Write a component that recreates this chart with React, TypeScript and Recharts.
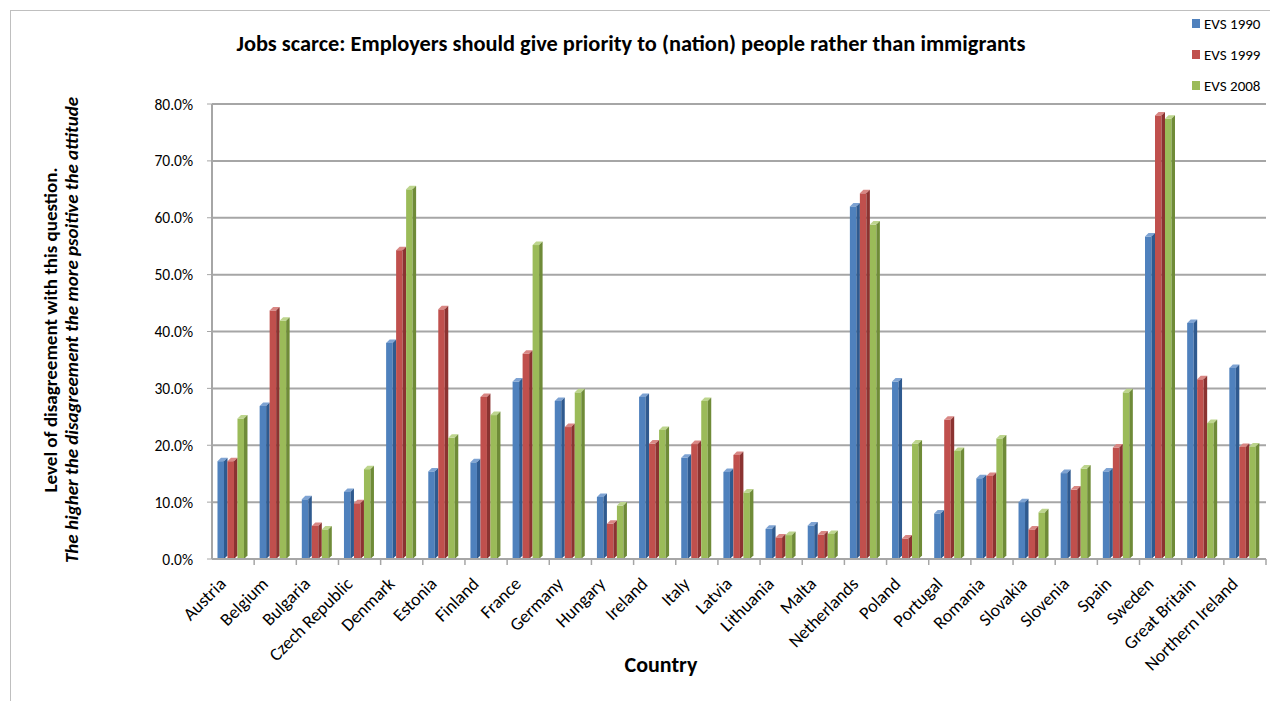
import React from "react";
import { BarChart, Bar, XAxis, YAxis, CartesianGrid } from "recharts";

const countries = [
  "Austria", "Belgium", "Bulgaria", "Czech Republic", "Denmark", "Estonia",
  "Finland", "France", "Germany", "Hungary", "Ireland", "Italy", "Latvia",
  "Lithuania", "Malta", "Netherlands", "Poland", "Portugal", "Romania",
  "Slovakia", "Slovenia", "Spain", "Sweden", "Great Britain", "Northern Ireland",
];

const evs1990 = [17.2, 26.9, 10.5, 11.8, 38.0, 15.4, 17.0, 31.2, 27.8, 10.9, 28.5, 17.8, 15.3, 5.3, 5.9, 62.0, 31.2, 8.0, 14.2, 10.0, 15.1, 15.4, 56.7, 41.5, 33.6];
const evs1999 = [17.2, 43.7, 5.8, 9.8, 54.3, 43.9, 28.5, 36.1, 23.2, 6.2, 20.3, 20.2, 18.3, 3.8, 4.3, 64.3, 3.6, 24.5, 14.6, 5.2, 12.2, 19.6, 78.0, 31.6, 19.7];
const evs2008 = [24.7, 41.9, 5.2, 15.8, 65.0, 21.3, 25.3, 55.2, 29.3, 9.4, 22.7, 27.8, 11.7, 4.2, 4.4, 58.8, 20.3, 19.0, 21.2, 8.2, 15.9, 29.3, 77.4, 23.9, 19.8];

const yTicks = [0, 10, 20, 30, 40, 50, 60, 70, 80];

const series = [
  { key: "EVS 1990", values: evs1990, color: "#4F81BD", side: "#2f5a8f", top: "#7ea3d3" },
  { key: "EVS 1999", values: evs1999, color: "#C0504D", side: "#8b3331", top: "#d98784" },
  { key: "EVS 2008", values: evs2008, color: "#9BBB59", side: "#6f8b38", top: "#bdd58d" },
];

const data = countries.map((c, i) => {
  const row: Record<string, string | number> = { country: c };
  series.forEach((s) => (row[s.key] = s.values[i]));
  return row;
});

const FONT = "Carlito, Lato, 'Open Sans', sans-serif";
const CHART_W = 1270;
const PLOT_LEFT = 212;
const PLOT_RIGHT = 4;

function make3D(color: string, side: string, top: string) {
  return (props: any) => {
    const { x, y, width, height } = props;
    if (height == null || width == null) return null;
    const d = 3.5;
    const fw = width - d;
    return (
      <g>
        <rect x={x} y={y} width={fw} height={height} fill={color} />
        <polygon
          points={`${x},${y} ${x + d},${y - d} ${x + width},${y - d} ${x + fw},${y}`}
          fill={top}
        />
        <polygon
          points={`${x + fw},${y} ${x + width},${y - d} ${x + width},${y + height - d} ${x + fw},${y + height}`}
          fill={side}
        />
      </g>
    );
  };
}

function CountryTick(props: any) {
  const { x, y, payload } = props;
  const half = payload && payload.offset ? payload.offset : (CHART_W - PLOT_LEFT - PLOT_RIGHT) / countries.length / 2;
  const tx = x - 6;
  const ty = y + 18;
  return (
    <g>
      <line x1={x + half} y1={y - 8} x2={x + half} y2={y - 2} stroke="#a6a6a6" strokeWidth={1.5} />
      <text
        x={tx}
        y={ty}
        transform={`rotate(-45, ${tx}, ${ty})`}
        textAnchor="end"
        fontFamily={FONT}
        fontSize={18}
        fill="#000"
      >
        {payload.value}
      </text>
    </g>
  );
}

export default function App() {
  return (
    <div style={{ position: "absolute", left: 0, top: 0, width: 1270, height: 701, background: "#fff", overflow: "hidden" }}>
      <div style={{ position: "absolute", left: 10, top: 10, width: 1270, height: 700, border: "1px solid #bfbfbf" }} />
      <div
        style={{
          position: "absolute", left: 0, top: 30, width: 1262, textAlign: "center",
          fontFamily: FONT, fontWeight: "bold", fontSize: 22.4,
        }}
      >
        Jobs scarce: Employers should give priority to (nation) people rather than immigrants
      </div>
      <div
        style={{
          position: "absolute", left: 61, top: 330, width: 600,
          transform: "translate(-50%, -50%) rotate(-90deg)", textAlign: "center",
          fontFamily: FONT, fontWeight: "bold", fontSize: 19, lineHeight: "21px",
        }}
      >
        <div>Level of disagreement with this question.</div>
        <div style={{ fontStyle: "italic" }}>The higher the disagreement the more psoitive the attitude</div>
      </div>
      <div
        style={{
          position: "absolute", left: 561, top: 651, width: 200, textAlign: "center",
          fontFamily: FONT, fontWeight: "bold", fontSize: 22,
        }}
      >
        Country
      </div>
      <div style={{ position: "absolute", left: 1192, top: 8, fontFamily: FONT, fontSize: 15, color: "#000" }}>
        {series.map((s) => (
          <div key={s.key} style={{ display: "flex", alignItems: "center", height: 31 }}>
            <span style={{ width: 8, height: 9, background: s.color, marginRight: 4, display: "inline-block" }} />
            {s.key}
          </div>
        ))}
      </div>
      <div style={{ position: "absolute", left: 0, top: 0 }}>
        <BarChart
          width={CHART_W}
          height={701}
          data={data}
          margin={{ top: 104, right: PLOT_RIGHT, left: 0, bottom: 0 }}
          barGap={0}
          barCategoryGap="13%"
        >
          <CartesianGrid vertical={false} stroke="#a6a6a6" strokeWidth={2} />
          <XAxis
            dataKey="country"
            height={142}
            interval={0}
            tickLine={false}
            axisLine={{ stroke: "#a6a6a6", strokeWidth: 2 }}
            tick={<CountryTick />}
          />
          <YAxis
            width={PLOT_LEFT}
            domain={[0, 80]}
            ticks={yTicks}
            tickFormatter={(v: number) => v.toFixed(1) + "%"}
            tickSize={5}
            tickMargin={14}
            tickLine={{ stroke: "#a6a6a6" }}
            axisLine={{ stroke: "#a6a6a6", strokeWidth: 2 }}
            tick={{ fontFamily: FONT, fontSize: 15.5, fill: "#000" }}
          />
          {series.map((s) => (
            <Bar
              key={s.key}
              dataKey={s.key}
              fill={s.color}
              isAnimationActive={false}
              shape={make3D(s.color, s.side, s.top)}
            />
          ))}
        </BarChart>
      </div>
    </div>
  );
}
